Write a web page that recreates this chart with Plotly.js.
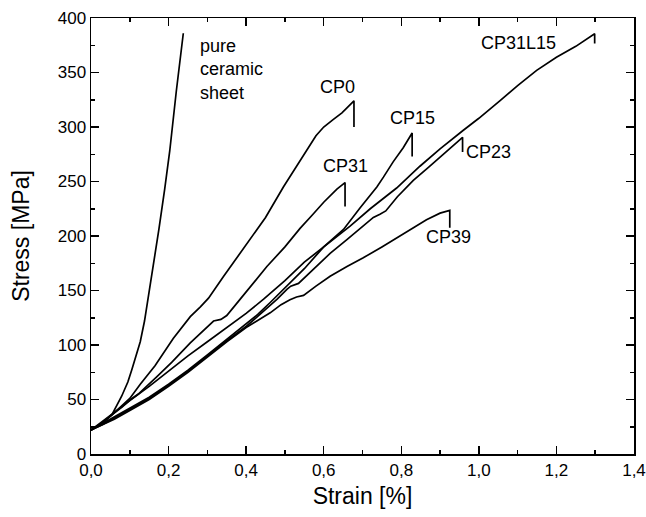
<!DOCTYPE html>
<html>
<head>
<meta charset="utf-8">
<script src="https://cdn.plot.ly/plotly-3.0.1.min.js"></script>
<style>html,body{margin:0;padding:0;background:#fff;}#plot{width:646px;height:517px;}</style>
</head>
<body>
<div id="plot"></div>
<script>
// Data (strain in %, stress in MPa)
const pureStrain = [0, 0.02, 0.035, 0.054, 0.079, 0.095, 0.105, 0.117, 0.127, 0.138, 0.146, 0.155, 0.165, 0.175, 0.19, 0.203, 0.22, 0.238];
const pureStress = [22, 26, 30, 36, 53, 66, 77, 90, 103, 122, 140, 160, 180, 206, 243, 278, 333, 386];

const cp0Strain = [0, 0.03, 0.054, 0.08, 0.1, 0.127, 0.165, 0.212, 0.256, 0.282, 0.303, 0.342, 0.38, 0.41, 0.45, 0.496, 0.53, 0.556, 0.58, 0.6, 0.612, 0.625, 0.647, 0.668, 0.678, 0.678];
const cp0Stress = [22, 29, 36, 44, 51, 64, 81, 106, 126, 135, 143, 163, 182, 197, 217, 245, 264, 279, 292, 300, 303, 307, 313, 321, 324, 300];

const cp31Strain = [0, 0.03, 0.054, 0.08, 0.102, 0.122, 0.17, 0.208, 0.256, 0.29, 0.316, 0.335, 0.35, 0.38, 0.41, 0.4535, 0.5, 0.539, 0.57, 0.6, 0.634, 0.655, 0.655];
const cp31Stress = [22, 29, 36, 43, 50, 55, 71, 84, 102, 113, 122, 123.5, 127, 140, 153, 172, 190, 207, 219, 231, 243, 249, 227];

const cp31l15Strain = [0, 0.033, 0.06, 0.1, 0.15, 0.2, 0.25, 0.3, 0.35, 0.4, 0.445, 0.5, 0.55, 0.6165, 0.668, 0.72, 0.788, 0.848, 0.9, 0.96, 1.0, 1.054, 1.1, 1.149, 1.2, 1.25, 1.2986, 1.2986];
const cp31l15Stress = [22, 31, 38, 49, 62, 76, 90, 103, 116, 129, 142, 159, 176, 195, 209, 225, 244, 264, 280, 297, 308, 324, 338, 352, 364, 374, 385.5, 376.5];

const cp15Strain = [0, 0.03, 0.06, 0.1, 0.15, 0.2, 0.25, 0.3, 0.35, 0.4, 0.43, 0.462, 0.5, 0.55, 0.6, 0.625, 0.651, 0.694, 0.737, 0.754, 0.779, 0.805, 0.828, 0.828];
const cp15Stress = [22, 28, 34, 42, 52, 64, 77, 91, 105, 119, 128, 139, 152, 170, 190, 198, 206, 226, 245, 254, 268, 281, 294.5, 273];

const cp23Strain = [0, 0.03, 0.06, 0.1, 0.15, 0.2, 0.25, 0.3, 0.35, 0.4, 0.45, 0.48, 0.505, 0.515, 0.535, 0.56, 0.6165, 0.659, 0.7, 0.728, 0.745, 0.76, 0.79, 0.831, 0.87, 0.925, 0.958, 0.958];
const cp23Stress = [22, 27, 33, 41, 51, 63, 76, 90, 104, 117, 133, 142, 151, 154, 156.5, 165, 184, 196.5, 209, 217, 220, 223, 236, 251, 263, 280, 290.5, 277];

const cp39Strain = [0, 0.03, 0.06, 0.1, 0.15, 0.2, 0.25, 0.3, 0.35, 0.4, 0.462, 0.49, 0.513, 0.53, 0.548, 0.58, 0.6165, 0.66, 0.702, 0.75, 0.788, 0.83, 0.865, 0.9, 0.925, 0.925];
const cp39Stress = [22, 27, 32, 40, 50, 62, 75, 89, 103, 116, 129.5, 137, 141.5, 144, 145.5, 154, 163, 172, 180, 190, 198, 207, 215, 221, 223.5, 207.5];

const xTicks = [0, 0.2, 0.4, 0.6, 0.8, 1.0, 1.2, 1.4];
const yTicks = [0, 50, 100, 150, 200, 250, 300, 350, 400];

const labelText = ["pure<br>ceramic<br>sheet", "CP0", "CP15", "CP31", "CP23", "CP39", "CP31L15"];
const labelX = [0.277, 0.636, 0.829, 0.655, 1.026, 0.921, 1.103];
const labelY = [353, 336.5, 308.3, 263.9, 276.9, 198.9, 377];
const labelAnchor = ["left", "center", "center", "center", "center", "center", "center"];

const series = [
  [pureStrain, pureStress],
  [cp0Strain, cp0Stress],
  [cp31Strain, cp31Stress],
  [cp31l15Strain, cp31l15Stress],
  [cp15Strain, cp15Stress],
  [cp23Strain, cp23Stress],
  [cp39Strain, cp39Stress]
];

const FONT = 'Liberation Sans, Arial, sans-serif';

const traces = series.map(s => ({
  x: s[0], y: s[1], type: 'scatter', mode: 'lines',
  line: {color: '#000', width: 1.7}, hoverinfo: 'skip', showlegend: false
}));

const annotations = labelText.map((t, i) => ({
  x: labelX[i], y: labelY[i], xref: 'x', yref: 'y', text: t, showarrow: false,
  xanchor: labelAnchor[i], yanchor: 'middle', align: 'left',
  font: {family: FONT, size: 18, color: '#000'}
}));

const axisCommon = {
  showgrid: false, zeroline: false, showline: true, linecolor: '#000', linewidth: 1.5,
  mirror: 'ticks', ticks: 'inside', ticklen: 8, tickwidth: 1.5, tickcolor: '#000',
  tickfont: {family: FONT, size: 17, color: '#000'}
};

const layout = {
  width: 646, height: 517,
  margin: {l: 91, r: 12, t: 18, b: 63},
  paper_bgcolor: '#fff', plot_bgcolor: '#fff',
  separators: ', ',
  font: {family: FONT, color: '#000'},
  xaxis: Object.assign({}, axisCommon, {
    range: [0, 1.4], tickvals: xTicks, tickformat: '.1f',
    minor: {dtick: 0.1, ticks: 'inside', ticklen: 4, tickwidth: 1.5, tickcolor: '#000'},
    title: {text: 'Strain [%]', font: {size: 23, family: FONT}, standoff: 9}
  }),
  yaxis: Object.assign({}, axisCommon, {
    range: [0, 400], tickvals: yTicks,
    minor: {dtick: 25, ticks: 'inside', ticklen: 4, tickwidth: 1.5, tickcolor: '#000'},
    title: {text: 'Stress [MPa]', font: {size: 23, family: FONT}, standoff: 21}
  }),
  annotations: annotations
};

Plotly.newPlot('plot', traces, layout, {staticPlot: true, displayModeBar: false});
</script>
</body>
</html>
